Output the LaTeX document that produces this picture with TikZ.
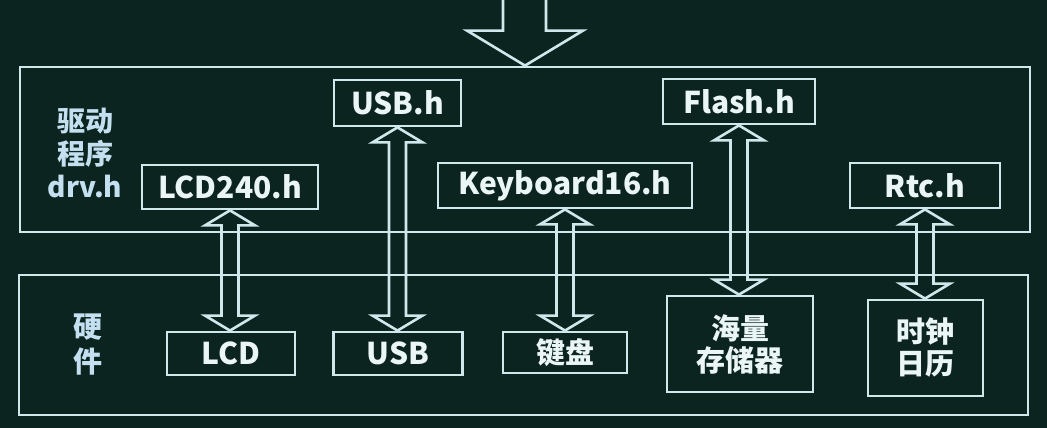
\documentclass[tikz,border=0pt]{standalone}
\usepackage{fontspec}
\setmainfont{Noto Sans CJK SC}
\usetikzlibrary{calc}
\definecolor{bg}{RGB}{12,36,31}
\definecolor{ln}{RGB}{206,232,236}
\definecolor{tx}{RGB}{234,245,246}
\definecolor{side}{RGB}{196,224,240}
\newcommand\hollowlink[2]{\draw[conn] let \p1=(#1.south), \p2=(#2.north) in
  (\x1,\y1) -- (\x1+25pt,\y1-15pt) -- (\x1+8.5pt,\y1-15pt) -- (\x1+8.5pt,\y2+15pt) --
  (\x1+25pt,\y2+15pt) -- (\x1,\y2) -- (\x1-25pt,\y2+15pt) -- (\x1-8.5pt,\y2+15pt) --
  (\x1-8.5pt,\y1-15pt) -- (\x1-25pt,\y1-15pt) -- cycle;}
\begin{document}
\begin{tikzpicture}[x=1pt,y=-1pt,
  box/.style={draw=ln, line width=2.8pt, text=tx, inner sep=0pt, align=center,
    font=\bfseries\fontsize{30}{33}\selectfont},
  frame/.style={draw=ln, line width=2.8pt, inner sep=0pt},
  conn/.style={draw=ln, line width=2.6pt, line join=miter},
  sidelabel/.style={text=side, inner sep=0pt, align=center, font=\bfseries\fontsize{28}{33}\selectfont}]
\useasboundingbox[fill=bg] (0,0) rectangle (1047,428);
% frames
\node[frame, minimum width=1010pt, minimum height=165pt] (drv) at (525,149.5) {};
\node[frame, minimum width=1009pt, minimum height=140pt] (hw) at (523.5,345) {};
% side labels
\node[sidelabel] (drvlbl) at (85,153) {驱动\\程序\\drv.h};
\node[sidelabel, font=\bfseries\fontsize{29}{35}\selectfont] (hwlbl) at (88,345) {硬\\件};
% driver boxes
\node[box, minimum width=127pt, minimum height=46pt] (usbh) at (397.5,103) {USB.h};
\node[box, minimum width=152pt, minimum height=45pt] (flashh) at (739,101.5) {Flash.h};
\node[box, minimum width=176pt, minimum height=44pt] (lcdh) at (230,187) {LCD240.h};
\node[box, minimum width=254pt, minimum height=45pt] (kbh) at (565,185.5) {Keyboard16.h};
\node[box, minimum width=150pt, minimum height=45pt] (rtch) at (925,185.5) {Rtc.h};
% hardware boxes
\node[box, minimum width=128pt, minimum height=43pt] (lcd) at (231,353.5) {LCD};
\node[box, minimum width=129pt, minimum height=43pt] (usb) at (398,353.5) {USB};
\node[box, minimum width=124pt, minimum height=41pt, font=\bfseries\fontsize{29}{33}\selectfont] (kb) at (565,352.5) {键盘};
\node[box, minimum width=146pt, minimum height=96pt, font=\bfseries\fontsize{29}{32}\selectfont] (mass) at (740,344) {海量\\存储器};
\node[box, minimum width=115pt, minimum height=96pt, font=\bfseries\fontsize{29}{32}\selectfont] (rtc) at (925.5,348) {时钟\\日历};
% top input arrow
\draw[conn] let \p1=(drv.north) in (\x1-22pt,\y1+72pt) -- (\x1-22pt,\y1+35pt) -- (\x1-58pt,\y1+35pt) --
  (\p1) -- (\x1+58pt,\y1+35pt) -- (\x1+21pt,\y1+35pt) -- (\x1+21pt,\y1+72pt);
% links
\hollowlink{lcdh}{lcd}
\hollowlink{usbh}{usb}
\hollowlink{kbh}{kb}
\hollowlink{flashh}{mass}
\hollowlink{rtch}{rtc}
\end{tikzpicture}
\end{document}
